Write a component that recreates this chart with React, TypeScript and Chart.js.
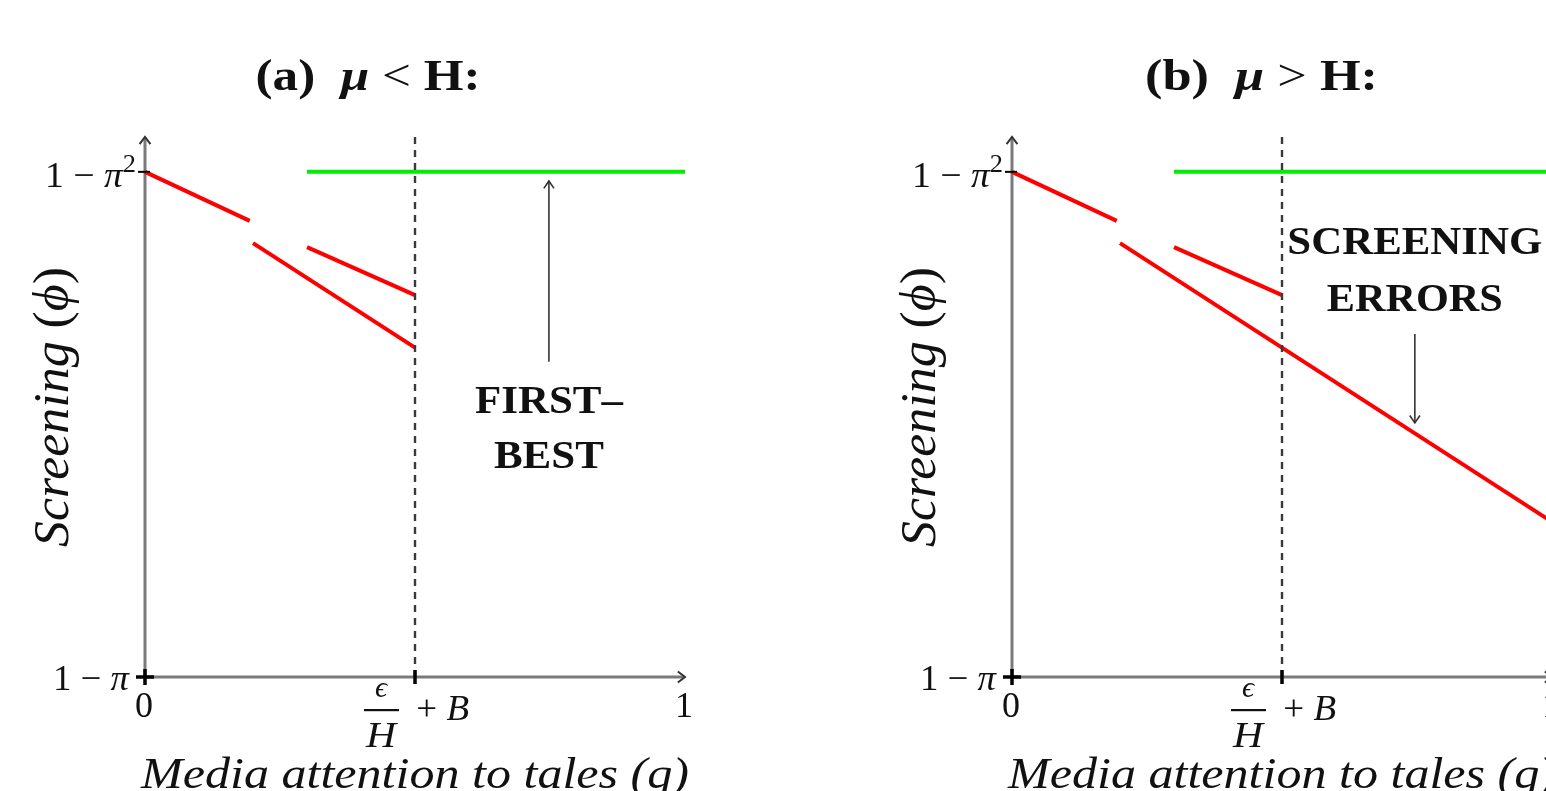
import { useEffect, useRef } from "react";
import { Chart, registerables } from "chart.js";

Chart.register(...registerables);

// ---------- data ----------
const xMin = 0;
const xMax = 1;
const yMin = 0;
const yMax = 1.069;

const xTickValues = [0, 0.5, 1];
const xTickLabels = ["0", "ϵ/H + B", "1"];
const yTickValues = [0, 1];
const yTickLabels = ["1 − π", "1 − π²"];

const topSegX = [0, 0.194];
const topSegY = [1, 0.903];
const midSegX = [0.3, 0.5];
const midSegY = [0.851, 0.756];
const lowSegXA = [0.2, 0.5];
const lowSegYA = [0.859, 0.652];
const lowSegXB = [0.2, 1];
const lowSegYB = [0.859, 0.307];
const firstBestX = [0.3, 1];
const firstBestY = [1, 1];
const thresholdX = [0.5, 0.5];
const thresholdY = [0, 1.069];

const titleA = ["(a)  ", "μ", " < ", "H:"];
const titleB = ["(b)  ", "μ", " > ", "H:"];
const yLabelParts = ["Screening ", "(", "ϕ", ")"];
const xLabel = "Media attention to tales (q)";

const noteTextA = ["FIRST–", "BEST"];
const noteTextB = ["SCREENING", "ERRORS"];
const noteXA = 0.748;
const noteXB = 0.746;
const noteLineYA = [0.523, 0.414];
const noteLineYB = [0.838, 0.725];
const noteArrowYA = [0.624, 0.982];
const noteArrowYB = [0.679, 0.503];

// ---------- layout / style ----------
const CANVAS_W = 867;
const CANVAS_H = 791;
const PAD = { left: 145, right: 182, top: 137, bottom: 114 };
const FONT = "'Liberation Serif', 'Times New Roman', serif";
const f = (size: number, style = "") => `${style} ${size}px ${FONT}`.trim();
const RED = "#ff0000";
const GREEN = "#00ee00";
const INK = "#111111";

type Run = { t: string; font: string; dy?: number };

function runsWidth(ctx: CanvasRenderingContext2D, runs: Run[]) {
  let w = 0;
  for (const r of runs) {
    ctx.font = r.font;
    w += ctx.measureText(r.t).width;
  }
  return w;
}

function drawRuns(
  ctx: CanvasRenderingContext2D,
  runs: Run[],
  x: number,
  y: number,
  align: "left" | "center" | "right",
  targetW?: number
) {
  const w = runsWidth(ctx, runs);
  const s = targetW ? targetW / w : 1;
  const total = w * s;
  const start = align === "left" ? x : align === "center" ? x - total / 2 : x - total;
  ctx.save();
  ctx.translate(start, y);
  ctx.scale(s, 1);
  ctx.textAlign = "left";
  ctx.textBaseline = "alphabetic";
  let cx = 0;
  for (const r of runs) {
    ctx.font = r.font;
    ctx.fillText(r.t, cx, r.dy || 0);
    cx += ctx.measureText(r.t).width;
  }
  ctx.restore();
}

function mathRuns(str: string, size: number): Run[] {
  const runs: Run[] = [];
  for (const ch of str) {
    if (ch === "²") runs.push({ t: "2", font: f(size * 0.7), dy: -size * 0.42 });
    else if (/[A-Za-zα-ωπϕϵμ]/.test(ch)) runs.push({ t: ch, font: f(size, "italic") });
    else runs.push({ t: ch, font: f(size) });
  }
  return runs;
}

function arrowHead(
  ctx: CanvasRenderingContext2D,
  tipX: number,
  tipY: number,
  ang: number,
  len: number,
  spread: number
) {
  ctx.beginPath();
  ctx.moveTo(tipX - len * Math.cos(ang - spread), tipY - len * Math.sin(ang - spread));
  ctx.lineTo(tipX, tipY);
  ctx.lineTo(tipX - len * Math.cos(ang + spread), tipY - len * Math.sin(ang + spread));
  ctx.stroke();
}

function seg(xs: number[], ys: number[], color: string, width: number, dash?: number[]) {
  return {
    data: xs.map((x, i) => ({ x, y: ys[i] })),
    borderColor: color,
    backgroundColor: color,
    borderWidth: width,
    borderDash: dash || [],
    borderCapStyle: "butt" as const,
    pointRadius: 0,
    showLine: true,
    fill: false,
    tension: 0,
    clip: false as const,
  };
}

type PanelProps = {
  left: number;
  lowX: number[];
  lowY: number[];
  title: string[];
  titleX: number;
  titleW: number;
  noteText: string[];
  noteX: number;
  noteLineY: number[];
  noteW: number[];
  noteArrowY: number[];
};

function Panel(p: PanelProps) {
  const ref = useRef<HTMLCanvasElement | null>(null);

  useEffect(() => {
    const canvas = ref.current;
    if (!canvas) return;

    const decor = {
      id: "decor",
      beforeDatasetsDraw(chart: any) {
        const ctx: CanvasRenderingContext2D = chart.ctx;
        const xs = chart.scales.x;
        const ys = chart.scales.y;
        const x0 = xs.getPixelForValue(xMin);
        const x1 = xs.getPixelForValue(xMax);
        const y0 = ys.getPixelForValue(yMin);
        const y1 = ys.getPixelForValue(yMax);
        ctx.save();
        ctx.strokeStyle = "#7a7a7a";
        ctx.lineWidth = 3;
        ctx.beginPath();
        ctx.moveTo(x0, y0);
        ctx.lineTo(x1 - 1, y0);
        ctx.moveTo(x0, y0);
        ctx.lineTo(x0, y1 + 1);
        ctx.stroke();
        ctx.strokeStyle = "#333";
        ctx.lineWidth = 2;
        arrowHead(ctx, x1, y0, 0, 9, 0.65);
        arrowHead(ctx, x0, y1, -Math.PI / 2, 9, 0.65);
        ctx.restore();
      },
      afterDatasetsDraw(chart: any) {
        const ctx: CanvasRenderingContext2D = chart.ctx;
        const xs = chart.scales.x;
        const ys = chart.scales.y;
        const ox = xs.getPixelForValue(xMin);
        const oy = ys.getPixelForValue(yMin);
        ctx.save();
        ctx.fillStyle = INK;
        ctx.strokeStyle = "#000";

        // tick marks
        ctx.lineWidth = 3.5;
        xTickValues.forEach((v) => {
          if (v === xMin || v === xMax) return;
          const px = xs.getPixelForValue(v);
          ctx.beginPath();
          ctx.moveTo(px, oy - 7);
          ctx.lineTo(px, oy + 7);
          ctx.stroke();
        });
        // origin cross
        ctx.beginPath();
        ctx.moveTo(ox - 9, oy);
        ctx.lineTo(ox + 9, oy);
        ctx.moveTo(ox, oy - 8);
        ctx.lineTo(ox, oy + 8);
        ctx.stroke();
        ctx.lineWidth = 2;
        yTickValues.forEach((v) => {
          if (v === yMin) return;
          const py = ys.getPixelForValue(v);
          ctx.beginPath();
          ctx.moveTo(ox - 7, py);
          ctx.lineTo(ox + 5, py);
          ctx.stroke();
        });

        // y tick labels
        yTickValues.forEach((v, i) => {
          const py = ys.getPixelForValue(v);
          const lab = yTickLabels[i];
          const sup = lab.includes("²");
          drawRuns(ctx, mathRuns(lab, 36), ox - (sup ? 9 : 16), py + (sup ? 15 : 13), "right", sup ? 91 : 76);
        });

        // x tick labels
        xTickValues.forEach((v, i) => {
          const px = xs.getPixelForValue(v);
          const lab = xTickLabels[i];
          if (lab.includes("/")) {
            const [num, rest] = lab.split("/");
            const den = rest.split(" ")[0];
            const tail = rest.slice(den.length);
            const fc = px - 34;
            drawRuns(ctx, mathRuns(num, 30), fc, oy + 20, "center");
            ctx.fillRect(fc - 17, oy + 32, 35, 2.2);
            drawRuns(ctx, mathRuns(den, 36), fc, oy + 70, "center", 30);
            drawRuns(ctx, mathRuns(tail, 36), px - 8, oy + 43, "left", 62);
          } else {
            drawRuns(ctx, mathRuns(lab, 36), px - 1, oy + 40, "center");
          }
        });

        // axis titles
        drawRuns(ctx, [{ t: xLabel, font: f(44, "italic") }], (ox + xs.getPixelForValue(xMax)) / 2, 788, "center", 548);
        ctx.save();
        ctx.translate(68, 407);
        ctx.rotate(-Math.PI / 2);
        drawRuns(
          ctx,
          [
            { t: yLabelParts[0], font: f(50, "italic") },
            { t: yLabelParts[1], font: f(50) },
            { t: yLabelParts[2], font: f(50, "italic") },
            { t: yLabelParts[3], font: f(50) },
          ],
          0,
          0,
          "center",
          280
        );
        ctx.restore();

        // panel title
        drawRuns(
          ctx,
          [
            { t: p.title[0], font: f(44, "bold") },
            { t: p.title[1], font: f(44, "italic bold") },
            { t: p.title[2], font: f(44) },
            { t: p.title[3], font: f(44, "bold") },
          ],
          p.titleX,
          90,
          "center",
          p.titleW
        );

        // annotation
        const nx = xs.getPixelForValue(p.noteX);
        p.noteText.forEach((t, i) => {
          drawRuns(ctx, [{ t, font: f(39, "bold") }], nx, ys.getPixelForValue(p.noteLineY[i]), "center", p.noteW[i]);
        });
        const a0 = ys.getPixelForValue(p.noteArrowY[0]);
        const a1 = ys.getPixelForValue(p.noteArrowY[1]);
        ctx.strokeStyle = "#333";
        ctx.lineWidth = 1.6;
        ctx.beginPath();
        ctx.moveTo(nx, a0);
        ctx.lineTo(nx, a1);
        ctx.stroke();
        arrowHead(ctx, nx, a1, a1 < a0 ? -Math.PI / 2 : Math.PI / 2, 9, 0.6);
        ctx.restore();
      },
    };

    const chart = new Chart(canvas, {
      type: "scatter",
      data: {
        datasets: [
          seg(thresholdX, thresholdY, "#3a3a3a", 2.4, [7, 6]),
          seg(firstBestX, firstBestY, GREEN, 4),
          seg(topSegX, topSegY, RED, 4),
          seg(p.lowX, p.lowY, RED, 4),
          seg(midSegX, midSegY, RED, 4),
        ] as any,
      },
      options: {
        animation: false,
        responsive: false,
        maintainAspectRatio: false,
        layout: { padding: PAD },
        events: [],
        scales: {
          x: { type: "linear", min: xMin, max: xMax, display: false },
          y: { type: "linear", min: yMin, max: yMax, display: false },
        },
        plugins: {
          legend: { display: false },
          tooltip: { enabled: false },
        },
      },
      plugins: [decor],
    });
    return () => chart.destroy();
  }, []);

  return (
    <canvas
      ref={ref}
      width={CANVAS_W}
      height={CANVAS_H}
      style={{ position: "absolute", left: p.left, top: 0, width: CANVAS_W, height: CANVAS_H }}
    />
  );
}

export default function App() {
  return (
    <div
      style={{
        position: "absolute",
        left: 0,
        top: 0,
        width: 1546,
        height: 791,
        overflow: "hidden",
        background: "#fff",
      }}
    >
      <Panel
        left={0}
        lowX={lowSegXA}
        lowY={lowSegYA}
        title={titleA}
        titleX={368}
        titleW={225}
        noteText={noteTextA}
        noteX={noteXA}
        noteLineY={noteLineYA}
        noteW={[148, 110]}
        noteArrowY={noteArrowYA}
      />
      <Panel
        left={867}
        lowX={lowSegXB}
        lowY={lowSegYB}
        title={titleB}
        titleX={394.5}
        titleW={233}
        noteText={noteTextB}
        noteX={noteXB}
        noteLineY={noteLineYB}
        noteW={[255, 176]}
        noteArrowY={noteArrowYB}
      />
    </div>
  );
}
